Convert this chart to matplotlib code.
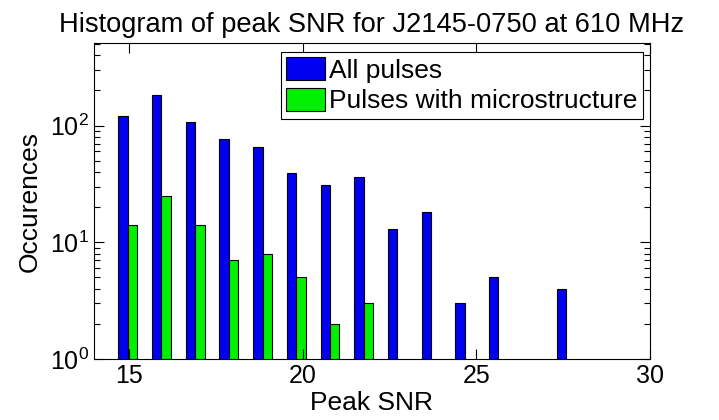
import numpy as np
import matplotlib.pyplot as plt

plt.rcParams['font.family'] = ['Liberation Sans', 'DejaVu Sans']

# histogram bin centres (peak SNR) and counts
snr_bins = [14.97, 15.94, 16.91, 17.88, 18.85, 19.82, 20.79,
            21.76, 22.73, 23.70, 24.67, 25.64, 26.61, 27.58]
all_pulses = [120, 184, 108, 77, 66, 39, 31, 36, 13, 18, 3, 5, 0, 4]
micro_pulses = [14, 25, 14, 7, 8, 5, 2, 3, 0, 0, 0, 0, 0, 0]

fig = plt.figure(figsize=(7.19, 4.20), dpi=100)
ax = fig.add_axes([94/719, 1-359/420, (650-94)/719, (359-43)/420])

x = np.array(snr_bins)
w = 0.27
ax.bar(x - w/2, all_pulses, width=w, color='#0000f0', edgecolor='black',
       linewidth=0.8, label='All pulses', bottom=0)
ax.bar(x + w/2, micro_pulses, width=w, color='#00f000', edgecolor='black',
       linewidth=0.8, label='Pulses with microstructure', bottom=0)

ax.set_yscale('log')
ax.set_ylim(1, 510)
ax.set_xlim(14, 30)
ax.set_xticks([15, 20, 25, 30])

ax.tick_params(which='both', direction='in', top=True, right=True,
               labelsize=18)
ax.tick_params(which='major', length=7, width=0.8)
ax.tick_params(which='minor', length=4, width=0.8)
for s in ax.spines.values():
    s.set_linewidth(0.8)

ax.set_xlabel('Peak SNR', fontsize=19, labelpad=2)
ax.set_ylabel('Occurences', fontsize=19, labelpad=6)
ax.set_title('Histogram of peak SNR for J2145-0750 at 610 MHz', fontsize=19.6, pad=8)

leg = ax.legend(loc='upper right', bbox_to_anchor=(643/719, 1-52/420),
                bbox_transform=fig.transFigure, borderaxespad=0,
                fontsize=19, fancybox=False, framealpha=1, edgecolor='black',
                handlelength=1.5, handleheight=0.95, handletextpad=0.15,
                borderpad=0.2, labelspacing=0.2)
leg.get_frame().set_linewidth(0.8)

fig.savefig('out.png', dpi=100)
